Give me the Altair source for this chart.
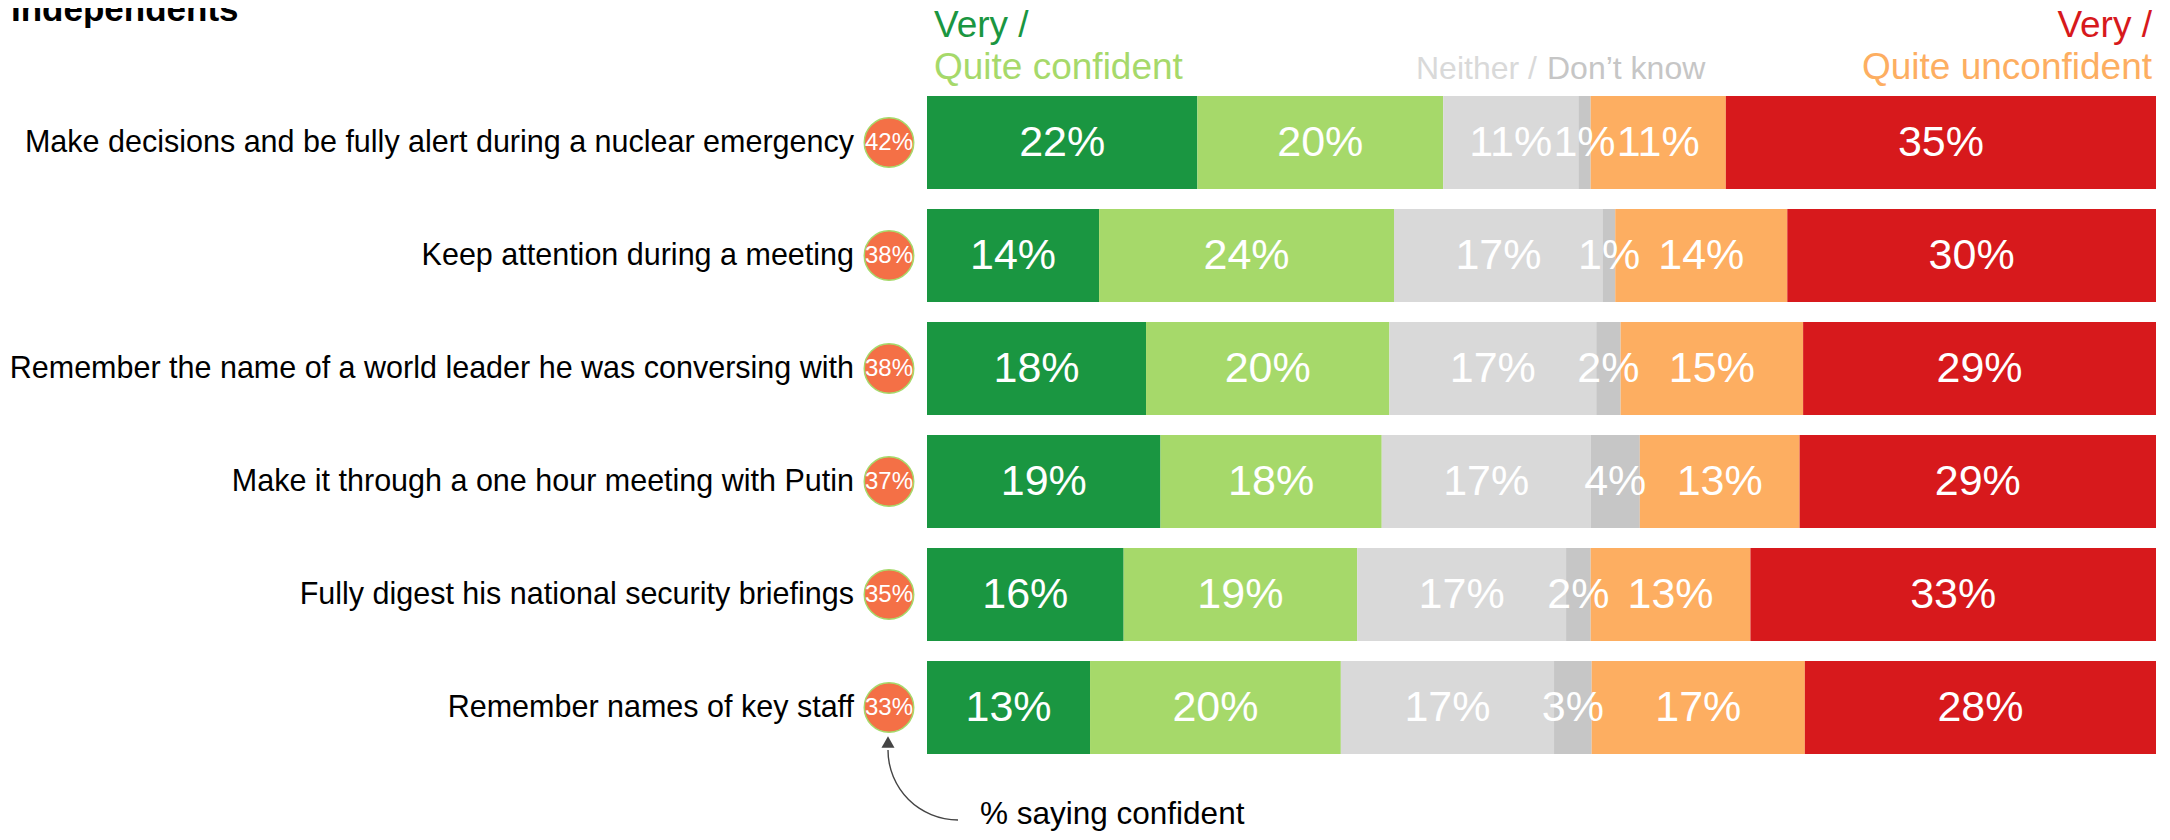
import math
import altair as alt
import pandas as pd

# ---------------- data ----------------
statements = [
    "Make decisions and be fully alert during a nuclear emergency",
    "Keep attention during a meeting",
    "Remember the name of a world leader he was conversing with",
    "Make it through a one hour meeting with Putin",
    "Fully digest his national security briefings",
    "Remember names of key staff",
]
categories = ["Very confident", "Quite confident", "Neither", "Don't know",
              "Quite unconfident", "Very unconfident"]
very_confident = [22, 14, 18, 19, 16, 13]
quite_confident = [20, 24, 20, 18, 19, 20]
neither = [11, 17, 17, 17, 17, 17]
dont_know = [1, 1, 2, 4, 2, 3]
quite_unconfident = [11, 14, 15, 13, 13, 17]
very_unconfident = [35, 30, 29, 29, 33, 28]
confident_total = [42, 38, 38, 37, 35, 33]

colors = ["#1a9641", "#a6d96a", "#d9d9d9", "#c6c6c6", "#fdae61", "#d7191c"]

series = [very_confident, quite_confident, neither, dont_know,
          quite_unconfident, very_unconfident]

rows = []
for i, s in enumerate(statements):
    vals = [ser[i] for ser in series]
    total = sum(vals)
    cum = 0
    for c, v in zip(categories, vals):
        rows.append(dict(statement=s, category=c, value=v,
                         start=cum / total, end=(cum + v) / total,
                         mid=(cum + v / 2) / total, label=f"{v}%"))
        cum += v
df = pd.DataFrame(rows)
circ = pd.DataFrame({"statement": statements,
                     "label": [f"{v}%" for v in confident_total]})

FONT = "Liberation Sans"
W, H = 1229, 678

yenc = alt.Y("statement:N", sort=statements, axis=None,
             scale=alt.Scale(paddingInner=0.177, paddingOuter=0.0885))
xscale = alt.Scale(domain=[0, 1], nice=False, zero=False)

bars = alt.Chart(df).mark_bar(strokeWidth=0).encode(
    x=alt.X("start:Q", scale=xscale, axis=None),
    x2="end:Q",
    y=yenc,
    color=alt.Color("category:N", scale=alt.Scale(domain=categories, range=colors),
                    legend=None),
)

bar_text = alt.Chart(df).mark_text(font=FONT, fontSize=43, color="white",
                                   baseline="middle", align="center").encode(
    x=alt.X("mid:Q", scale=xscale, axis=None),
    y=yenc,
    text="label:N",
)

circles = alt.Chart(circ).mark_point(shape="circle", filled=True, size=2450,
                                     fill="#f47046", stroke="#a6d96a",
                                     strokeWidth=1.5, opacity=1).encode(
    x=alt.value(-38), y=yenc)

circ_text = alt.Chart(circ).mark_text(font=FONT, fontSize=24, color="white",
                                      baseline="middle", align="center").encode(
    x=alt.value(-38), y=yenc, text="label:N")

row_labels = alt.Chart(circ).mark_text(font=FONT, fontSize=30.5, color="#000000",
                                       baseline="middle", align="right").encode(
    x=alt.value(-73), y=yenc, text="statement:N")


def htext(txt, x, y, color, size, align="left", weight="normal"):
    return alt.Chart(pd.DataFrame({"t": [txt]})).mark_text(
        font=FONT, fontSize=size, color=color, align=align,
        baseline="alphabetic", fontWeight=weight).encode(
        x=alt.value(x), y=alt.value(y), text="t:N")


title = htext("Independents", -916, -65, "#000000", 35, weight="bold")
h1 = htext("Very /", 7, -49, colors[0], 37)
h2 = htext("Quite confident", 7, -7, colors[1], 37)
h3 = htext("Neither /", 489, -7, colors[2], 32)
h4 = htext("Don\u2019t know", 620, -7, colors[3], 32)
h5 = htext("Very /", 1225, -49, colors[5], 37, align="right")
h6 = htext("Quite unconfident", 1225, -7, colors[4], 37, align="right")
ann = htext("% saying confident", 53, 738, "#000000", 31.5)

arc = alt.Chart(pd.DataFrame({"a": [0]})).mark_arc(
    radius=70.7, radius2=69.3, theta=math.pi, theta2=1.5 * math.pi,
    fill="#444444").encode(x=alt.value(31), y=alt.value(664))

arrowhead = alt.Chart(pd.DataFrame({"a": [0]})).mark_point(
    shape="triangle-up", filled=True, size=170, fill="#444444",
    opacity=1).encode(x=alt.value(-39), y=alt.value(656))

chart = alt.layer(
    bars, bar_text, circles, circ_text, row_labels,
    title, h1, h2, h3, h4, h5, h6, arc, arrowhead, ann,
).properties(
    width=W, height=H,
    padding={"left": 919, "top": 78, "right": 6, "bottom": 68},
    autosize=alt.AutoSizeParams(type="none"),
).configure_view(stroke=None)

chart.save("out.html", embed_options={"renderer": "svg", "actions": False})
